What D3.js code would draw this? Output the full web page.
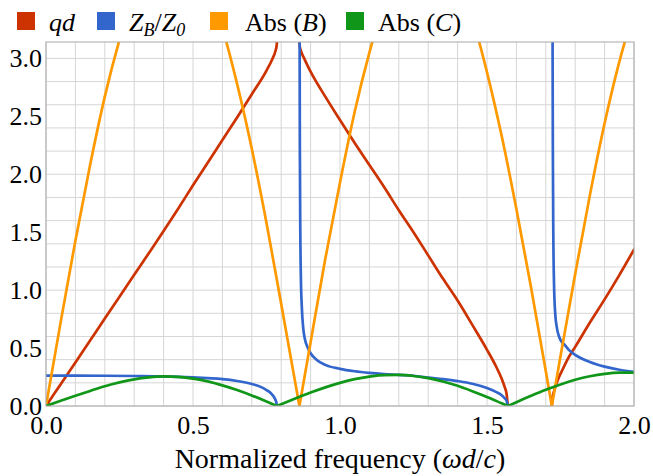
<!DOCTYPE html>
<html><head><meta charset="utf-8">
<script src="https://cdn.jsdelivr.net/npm/d3@7"></script>
<style>body{margin:0;background:#fff}</style>
</head><body>
<svg id="chart" width="653" height="476"></svg>
<script>
// ---- data ----
const xTicks = [0.0, 0.5, 1.0, 1.5, 2.0];
const yTicks = [0.0, 0.5, 1.0, 1.5, 2.0, 2.5, 3.0];
const seriesNames = ["qd", "ZB/Z0", "Abs (B)", "Abs (C)"];
const seriesColors = ["#cc3300", "#3366cc", "#ff9900", "#109618"];

// qd (Bloch phase), one array per pass band
const qdBand1 = [[0,0],[0.05,0.188],[0.1,0.376],[0.15,0.565],[0.2,0.755],[0.25,0.943],[0.3,1.132],[0.35,1.32],[0.4,1.51],[0.45,1.705],[0.5,1.905],[0.55,2.10],[0.6,2.295],[0.65,2.49],[0.7,2.69],[0.75,2.895],[0.77,2.995],[0.78,3.06],[0.785,3.12],[0.7854,3.1416]];
const qdBand2 = [[0.862,3.1416],[0.863,3.107],[0.865,3.082],[0.87,3.045],[0.88,2.99],[0.9,2.885],[0.95,2.67],[1.0,2.468],[1.05,2.27],[1.1,2.08],[1.15,1.89],[1.2,1.69],[1.25,1.50],[1.3,1.30],[1.35,1.10],[1.4,0.91],[1.45,0.70],[1.5,0.485],[1.53,0.345],[1.55,0.235],[1.56,0.165],[1.567,0.096],[1.5708,0]];
const qdBand3 = [[1.7205,0],[1.7225,0.07],[1.725,0.10],[1.73,0.145],[1.74,0.22],[1.76,0.33],[1.78,0.43],[1.8,0.51],[1.85,0.72],[1.9,0.92],[1.95,1.13],[2.0,1.35]];

// Bloch impedance ZB/Z0
const zbBand1 = [[0,0.262],[0.1,0.262],[0.2,0.261],[0.3,0.259],[0.4,0.256],[0.45,0.252],[0.5,0.247],[0.55,0.240],[0.6,0.232],[0.65,0.216],[0.7,0.19],[0.73,0.165],[0.75,0.138],[0.765,0.11],[0.775,0.08],[0.781,0.05],[0.784,0.025],[0.7854,0]];
const zbBand2 = [[0.8622,4.3],[0.8628,3.0],[0.8635,2.2],[0.865,1.5],[0.867,1.1],[0.87,0.86],[0.875,0.67],[0.88,0.585],[0.89,0.505],[0.9,0.455],[0.92,0.40],[0.95,0.355],[1.0,0.321],[1.05,0.30],[1.1,0.286],[1.15,0.276],[1.2,0.269],[1.25,0.261],[1.3,0.245],[1.35,0.232],[1.4,0.215],[1.45,0.192],[1.5,0.155],[1.53,0.122],[1.55,0.092],[1.56,0.067],[1.567,0.042],[1.5708,0]];
const zbBand3 = [[1.7225,4.3],[1.7232,3.0],[1.724,2.2],[1.7255,1.5],[1.728,1.05],[1.732,0.80],[1.738,0.67],[1.745,0.60],[1.755,0.55],[1.765,0.525],[1.78,0.48],[1.8,0.442],[1.85,0.38],[1.9,0.34],[1.95,0.313],[2.0,0.295]];

// |B|
const absBArch1 = [[0,0],[0.05,0.726],[0.1,1.427],[0.15,2.08],[0.2,2.67],[0.25,3.16],[0.3,3.56],[0.35,3.83],[0.4,3.98],[0.45,3.99],[0.5,3.87],[0.55,3.62],[0.6,3.26],[0.65,2.78],[0.7,2.22],[0.75,1.58],[0.8,0.88],[0.862,0]];
const absBArch2 = [[0.862,0],[0.9,0.55],[0.95,1.27],[1.0,1.93],[1.05,2.54],[1.1,3.05],[1.15,3.47],[1.2,3.78],[1.25,3.95],[1.3,4.0],[1.35,3.91],[1.4,3.69],[1.45,3.35],[1.5,2.88],[1.55,2.33],[1.6,1.70],[1.65,1.02],[1.7,0.30],[1.7205,0]];
const absBArch3 = [[1.7205,0],[1.75,0.43],[1.8,1.14],[1.85,1.82],[1.9,2.44],[1.95,2.97],[2.0,3.41]];

// |C|
const absCArch1 = [[0,0],[0.05,0.045],[0.1,0.088],[0.15,0.130],[0.2,0.171],[0.25,0.204],[0.3,0.230],[0.35,0.247],[0.4,0.255],[0.45,0.252],[0.5,0.236],[0.55,0.212],[0.6,0.178],[0.65,0.138],[0.7,0.091],[0.75,0.039],[0.7854,0]];
const absCArch2 = [[0.7854,0],[0.8,0.0155],[0.85,0.067],[0.9,0.116],[0.95,0.161],[1.0,0.200],[1.05,0.232],[1.1,0.254],[1.15,0.267],[1.2,0.268],[1.25,0.259],[1.3,0.241],[1.35,0.212],[1.4,0.174],[1.45,0.128],[1.5,0.078],[1.55,0.023],[1.5708,0]];
const absCArch3 = [[1.5708,0],[1.6,0.033],[1.65,0.088],[1.7,0.140],[1.75,0.186],[1.8,0.226],[1.85,0.257],[1.9,0.278],[1.95,0.288],[2.0,0.288]];

// ---- drawing ----
const FONT = "'Liberation Serif', 'Times New Roman', Tinos, serif";
const W = 653, H = 476;
const m = {left:46, right:19, top:42, bottom:70};
const svg = d3.select("#chart");
const x = d3.scaleLinear().domain([0,2]).range([m.left, W-m.right]);
const y = d3.scaleLinear().domain([0,Math.PI]).range([H-m.bottom, m.top]);

svg.append("defs").append("clipPath").attr("id","plotclip")
  .append("rect").attr("x",m.left).attr("y",m.top)
  .attr("width",W-m.left-m.right).attr("height",H-m.top-m.bottom);

// grid
const gx = d3.range(0, 2.0001, 0.1);
const gy = d3.range(0, 3.1, 0.2);
svg.append("g").selectAll("line").data(gx).join("line")
  .attr("x1",d=>x(d)).attr("x2",d=>x(d)).attr("y1",m.top).attr("y2",H-m.bottom)
  .attr("stroke","#d6d6d6").attr("stroke-width",1);
svg.append("g").selectAll("line").data(gy).join("line")
  .attr("y1",d=>y(d)).attr("y2",d=>y(d)).attr("x1",m.left).attr("x2",W-m.right)
  .attr("stroke","#d6d6d6").attr("stroke-width",1);

// axes (labels only, frame drawn separately)
const xAxis = d3.axisBottom(x).tickValues(xTicks).tickFormat(d3.format(".1f")).tickSize(0).tickPadding(10);
const yAxis = d3.axisLeft(y).tickValues(yTicks).tickFormat(d3.format(".1f")).tickSize(0).tickPadding(4);
const gX = svg.append("g").attr("transform",`translate(0,${H-m.bottom})`).call(xAxis);
const gY = svg.append("g").attr("transform",`translate(${m.left},0)`).call(yAxis);
[gX,gY].forEach(g=>{
  g.select(".domain").remove();
  g.selectAll("text").style("font-family",FONT).style("font-size","26px").attr("fill","#000");
});

// curves
const line = d3.line().x(d=>x(d[0])).y(d=>y(d[1])).curve(d3.curveMonotoneX);
const plot = svg.append("g").attr("clip-path","url(#plotclip)");
const seriesData = [
  [qdBand1, qdBand2, qdBand3],
  [zbBand1, zbBand2, zbBand3],
  [absBArch1, absBArch2, absBArch3],
  [absCArch1, absCArch2, absCArch3]
];
seriesData.forEach((segs,i)=>{
  segs.forEach(seg=>{
    plot.append("path").attr("d",line(seg)).attr("fill","none")
      .attr("stroke",seriesColors[i]).attr("stroke-width",2.7)
      .attr("stroke-linejoin","round").attr("stroke-linecap","round");
  });
});

// frame
svg.append("rect").attr("x",m.left).attr("y",m.top)
  .attr("width",W-m.left-m.right).attr("height",H-m.top-m.bottom)
  .attr("fill","none").attr("stroke","#a8a8a8").attr("stroke-width",1);

// x title
const title = svg.append("text").attr("x",(m.left+W-m.right)/2).attr("y",468)
  .attr("text-anchor","middle").style("font-family",FONT).style("font-size","28px").attr("fill","#000");
title.append("tspan").text("Normalized frequency (");
title.append("tspan").style("font-style","italic").text("ωd");
title.append("tspan").text("/");
title.append("tspan").style("font-style","italic").text("c");
title.append("tspan").text(")");

// legend
const legX = [17, 97, 210, 346];
const leg = svg.append("g");
seriesNames.forEach((name,i)=>{
  leg.append("rect").attr("x",legX[i]).attr("y",12).attr("width",18).attr("height",18)
    .attr("fill",seriesColors[i]);
  const t = leg.append("text").attr("x",legX[i]+(i===2?35:32)).attr("y",31)
    .style("font-family",FONT).style("font-size","26px").attr("fill","#000");
  if (i===0) {
    t.append("tspan").style("font-style","italic").text("qd");
  } else if (i===1) {
    t.append("tspan").style("font-style","italic").text("Z");
    t.append("tspan").style("font-style","italic").style("font-size","18px").attr("dy",5).text("B");
    t.append("tspan").attr("dy",-5).text("/");
    t.append("tspan").style("font-style","italic").text("Z");
    t.append("tspan").style("font-style","italic").style("font-size","18px").attr("dy",5).text("0");
  } else {
    t.append("tspan").text("Abs (");
    t.append("tspan").style("font-style","italic").text(i===2?"B":"C");
    t.append("tspan").text(")");
  }
});
</script>
</body></html>
